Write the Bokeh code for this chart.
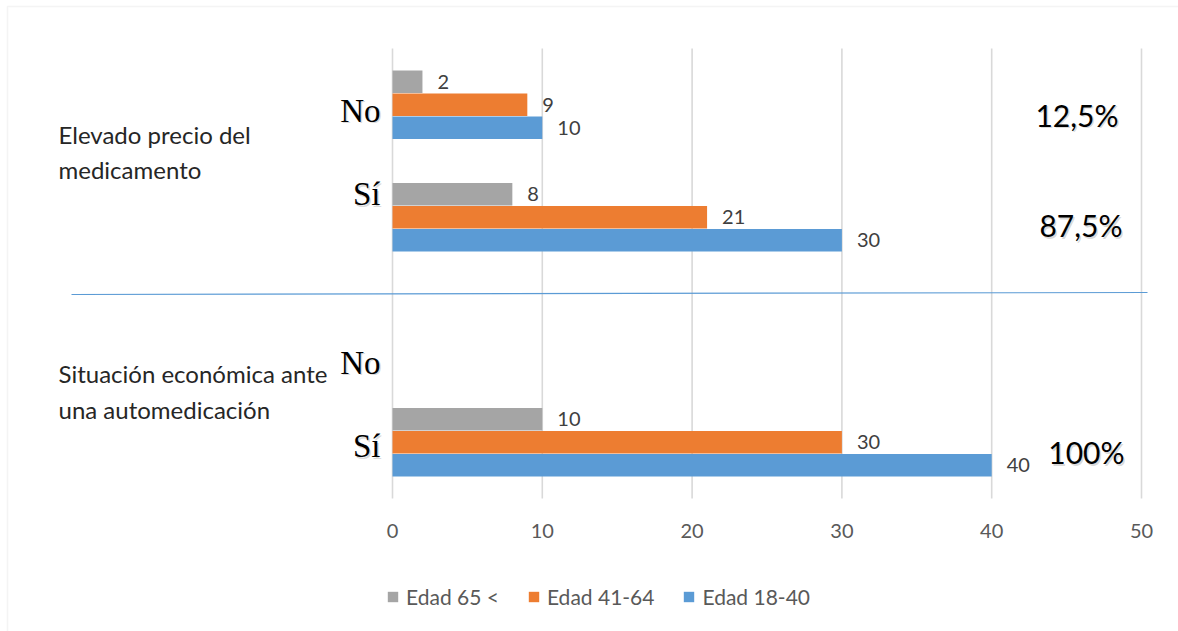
from bokeh.plotting import figure
from bokeh.models import (Range1d, Label, Legend, LegendItem,
                          ColumnDataSource, Arrow, BoxAnnotation)
from bokeh.core.properties import value
from bokeh.embed import file_html
from bokeh.resources import INLINE

# ---- data (rows listed top to bottom) ----
group_lines = [["Elevado precio del", "medicamento"],
               ["Situación económica ante", "una automedicación"]]
answers = ["No", "Sí", "No", "Sí"]
row_group = [0, 0, 1, 1]

series_names = ["Edad 65 <", "Edad 41-64", "Edad 18-40"]
edad_65 = [2, 8, None, 10]
edad_41_64 = [9, 21, None, 30]
edad_18_40 = [10, 30, None, 40]
percent_labels = ["12,5%", "87,5%", "", "100%"]
x_ticks = [0, 10, 20, 30, 40, 50]

# ---- styling / layout ----
series_colors = ["#A5A5A5", "#ED7D31", "#5B9BD5"]
bar_h = 0.205
bar_shift = [bar_h, 0.0, -bar_h]          # top, middle, bottom bar of each row
SANS = "Lato"
SERIF = "Liberation Serif"
W, H = 1178, 631

# pixel box of the value area: 0..50 across, the four rows down
AREA_L, AREA_R, AREA_T, AREA_B = 392, 1141, 48, 498

n_rows = len(answers)
row_y = [n_rows - 1 - i for i in range(n_rows)]
x_lo, x_hi = x_ticks[0], x_ticks[-1]
kx = (AREA_R - AREA_L) / (x_hi - x_lo)
ky = (AREA_B - AREA_T) / n_rows
y_top, y_bot = n_rows - 0.5, -0.5

p = figure(width=W, height=H, output_backend="svg", toolbar_location=None,
           x_axis_location=None, y_axis_location=None,
           x_range=Range1d(x_lo - AREA_L / kx, x_hi + (W - AREA_R) / kx),
           y_range=Range1d(y_bot - (H - AREA_B) / ky, y_top + AREA_T / ky),
           min_border=0, background_fill_color="white",
           border_fill_color="white", outline_line_color=None)
p.xgrid.visible = False
p.ygrid.visible = False

# value grid lines and tick labels
p.segment(x0=x_ticks, y0=[y_bot] * len(x_ticks), x1=x_ticks, y1=[y_top] * len(x_ticks),
          line_color="#D9D9D9", line_width=1.6)
p.text(x=x_ticks, y=[y_bot] * len(x_ticks), text=[str(t) for t in x_ticks],
       y_offset=32, text_align="center", text_baseline="middle",
       text_font=value(SANS), text_font_size="20px", text_color="#595959")

series_values = [edad_65, edad_41_64, edad_18_40]
legend_items = []
for name, vals, color, shift in zip(series_names, series_values, series_colors, bar_shift):
    ys, xs, labels = [], [], []
    for i, v in enumerate(vals):
        if v is None:
            continue
        ys.append(row_y[i] + shift)
        xs.append(v)
        labels.append(str(v))
    src = ColumnDataSource(dict(y=ys, x=xs, label=labels))
    r = p.hbar(y="y", right="x", left=0, height=bar_h * 0.98, source=src,
               fill_color=color, line_color=None)
    p.text(x="x", y="y", text="label", source=src, x_offset=15,
           text_baseline="middle", text_align="left",
           text_font=value(SANS), text_font_size="20px", text_color="#404040")
    legend_items.append(LegendItem(label=name, renderers=[r]))

# answer labels (No / Sí) beside the bars, with a soft shadow
answer_dy = [-6, 23, -33, -4]
for i, a in enumerate(answers):
    for dx, dy, col, alpha in [(1.5, -1.5, "#808080", 0.3), (0, 0, "black", 1.0)]:
        p.add_layout(Label(x=0, y=row_y[i], x_offset=-12 + dx, y_offset=answer_dy[i] + dy,
                           text=a, text_align="right", text_baseline="middle",
                           text_font=SERIF, text_font_size="33px",
                           text_color=col, text_alpha=alpha))

# question labels on the far left
group_line_y = [[-30, -65], [-44, -80]]
for g, lines in enumerate(group_lines):
    anchor = row_y[row_group.index(g)]
    for k, line in enumerate(lines):
        p.add_layout(Label(x=58, x_units="canvas", y=anchor, y_offset=group_line_y[g][k],
                           text=line, text_align="left", text_baseline="middle",
                           text_font=SANS, text_font_size="24px", text_color="#262626"))

# share of answers per row
pct_dx = [-23, -19, 0, -17]
pct_dy = [-10, -8, 0, -10]
for i, t in enumerate(percent_labels):
    if not t:
        continue
    for dx, dy, col, alpha in [(1.5, -1.5, "#808080", 0.3), (0, 0, "black", 1.0)]:
        p.add_layout(Label(x=x_hi, y=row_y[i], x_offset=pct_dx[i] + dx, y_offset=pct_dy[i] + dy,
                           text=t, text_align="right", text_baseline="middle",
                           text_font=SANS, text_font_size="30px",
                           text_color=col, text_alpha=alpha))

# separator between the two questions
p.add_layout(Arrow(start=None, end=None, x_start=71, y_start=294, x_end=1147, y_end=292,
                   start_units="canvas", end_units="canvas",
                   line_color="#5B9BD5", line_width=1.2))

# chart area border
p.add_layout(BoxAnnotation(left=7, right=W + 50, top=6, bottom=H + 50,
                           left_units="canvas", right_units="canvas",
                           top_units="canvas", bottom_units="canvas",
                           fill_alpha=0, line_color="#D9D9D9", line_width=1.5))

legend = Legend(items=legend_items, orientation="horizontal", location=(386, 22),
                border_line_color=None, background_fill_alpha=0,
                label_text_font=SANS, label_text_font_size="21px",
                label_text_color="#595959", glyph_width=13, glyph_height=13,
                label_standoff=7, spacing=28, padding=0, margin=0)
p.add_layout(legend)

open("out.html", "w").write(file_html(p, INLINE))
